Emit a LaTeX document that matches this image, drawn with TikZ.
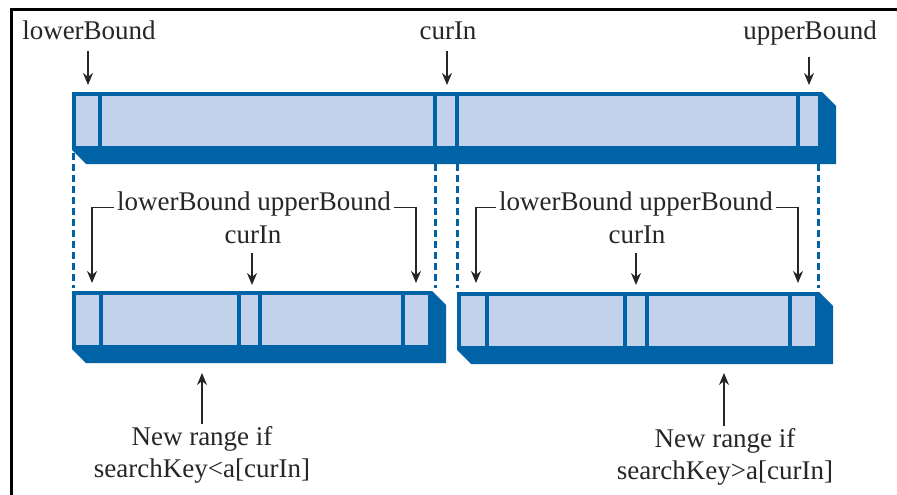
\documentclass[tikz,border=0pt]{standalone}
\usepackage{fontspec}
\setmainfont{Liberation Serif}
\newfontfamily\refserif{Liberation Serif}
\usetikzlibrary{arrows.meta}
\definecolor{dblue}{RGB}{0,99,165}
\definecolor{lblue}{RGB}{193,210,234}
\newcommand\arrbox[5]{%
  \fill[dblue] (#1,#4) -- (#1+14,#4+14) -- (#2+14,#4+14) -- (#2+14,#3+14) -- (#2,#3) -- cycle;
  \filldraw[fill=lblue, draw=dblue, line width=4pt] (#1+2,#3+2) rectangle (#2-2,#4-2);
  \foreach \d in {#5} {\draw[dblue, line width=3.5pt] (\d,#3+2) -- (\d,#4-2);}
}
\begin{document}
\begin{tikzpicture}[x=1pt,y=-1pt,
  lbl/.style={font=\refserif\fontsize{27}{32}\selectfont, text=black!85, inner sep=0pt},
  arr/.style={-{Stealth[length=12pt,width=10pt]}, line width=1.4pt, black!85},
  guide/.style={dblue, line width=3pt, dash pattern=on 7pt off 4pt}]
\useasboundingbox (0,0) rectangle (897,495);
\fill[white] (0,0) rectangle (897,495);
\draw[line width=3pt] (11,495) -- (11,10) -- (897,10);

% dashed guides
\foreach \gx in {73,435,457,818} {\draw[guide] (\gx,153) -- (\gx,288);}

% arrays
\arrbox{72}{822}{92}{150}{100,435,457,798}
\arrbox{72}{432}{291}{349}{101,239,260,403}
\arrbox{457}{819}{292}{350}{487,625,647,790}

% top labels
\node[lbl, anchor=base] (lb0) at (89,40) {lowerBound};
\node[lbl, anchor=base] (ci0) at (448,40) {curIn};
\node[lbl, anchor=base] (ub0) at (810,40) {upperBound};
\coordinate (lbt) at (88,85);
\coordinate (cit) at (447,85);
\coordinate (ubt) at (809,85);
\draw[arr, shorten <=11pt] (lb0.south -| lbt) -- (lbt);
\draw[arr, shorten <=11pt] (ci0.south -| cit) -- (cit);
\draw[arr, shorten <=11pt] (ub0.south -| ubt) -- (ubt);

% left panel labels
\node[lbl, anchor=base] (lu1) at (254,210) {lowerBound upperBound};
\node[lbl, anchor=base] (ci1) at (253,243) {curIn};
\coordinate (l1t) at (92,283);
\coordinate (u1t) at (416,283);
\coordinate (c1t) at (252,285);
\draw[arr] ([xshift=-3pt]lu1.mid west) -| (l1t);
\draw[arr] ([xshift=3pt]lu1.mid east) -| (u1t);
\draw[arr, shorten <=10pt] (ci1.south -| c1t) -- (c1t);

% right panel labels
\node[lbl, anchor=base] (lu2) at (636,210) {lowerBound upperBound};
\node[lbl, anchor=base] (ci2) at (637,243) {curIn};
\coordinate (l2t) at (476,283);
\coordinate (u2t) at (798,283);
\coordinate (c2t) at (636,285);
\draw[arr] ([xshift=-3pt]lu2.mid west) -| (l2t);
\draw[arr] ([xshift=3pt]lu2.mid east) -| (u2t);
\draw[arr, shorten <=10pt] (ci2.south -| c2t) -- (c2t);

% bottom notes
\node[lbl, align=center, anchor=north] (nr1) at (202,426) {New range if\\searchKey<a[curIn]};
\node[lbl, align=center, anchor=north] (nr2) at (725,428) {New range if\\searchKey>a[curIn]};
\coordinate (b1t) at (202,373);
\coordinate (b2t) at (724,373);
\draw[arr, shorten <=2pt] (nr1.north -| b1t) -- (b1t);
\draw[arr, shorten <=2pt] (nr2.north -| b2t) -- (b2t);
\end{tikzpicture}
\end{document}
